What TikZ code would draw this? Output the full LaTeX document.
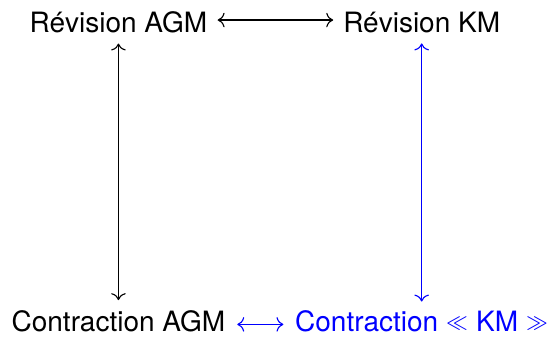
\documentclass[tikz,border=0pt]{standalone}
\usepackage{fontspec}
\setmainfont{TeX Gyre Heros}
\usetikzlibrary{arrows.meta}
\newcommand{\lguil}{\raisebox{1.4pt}{$\scriptstyle\ll$}}
\newcommand{\rguil}{\raisebox{1.4pt}{$\scriptstyle\gg$}}
\begin{document}
\begin{tikzpicture}[
  every node/.style={inner sep=0pt, outer sep=0pt, anchor=base, font=\fontsize{10pt}{12pt}\selectfont},
  link/.style={line width=0.4pt, {Computer Modern Rightarrow[]}-{Computer Modern Rightarrow[]}},
  kmlink/.style={link, blue}
]
\useasboundingbox (0,0) rectangle (196.07pt,120.36pt);

% the four notions
\node (tl) at (42.3pt,108.9pt) {Révision AGM};
\node (tr) at (150.6pt,108.9pt) {Révision KM};
\node (bl) at (42.3pt,1.8pt) {Contraction AGM};
\node[text=blue] (br) at (150.6pt,1.8pt) {Contraction \lguil\ KM \rguil};

% equivalences
\draw[link, shorten <=3.7pt, shorten >=3.6pt]
  ([yshift=4.3pt]tl.base east) -- ([yshift=4.3pt]tr.base west);
\draw[kmlink, shorten <=4.3pt, shorten >=4.2pt]
  ([yshift=2.7pt]bl.base east) -- ([yshift=2.7pt]br.base west);
\draw[link, shorten <=3.9pt, shorten >=3.9pt] (tl.south) -- (bl.north);
\draw[kmlink, shorten <=3.9pt, shorten >=3.4pt] (tr.south) -- (br.north);
\end{tikzpicture}
\end{document}
